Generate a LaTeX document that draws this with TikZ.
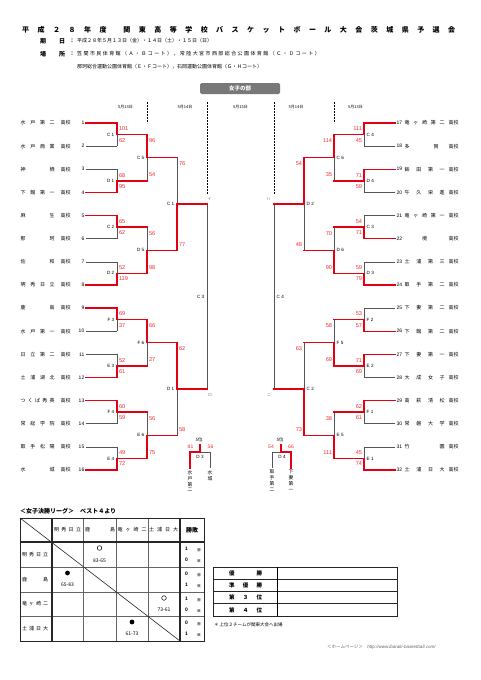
\documentclass[tikz,border=0pt]{standalone}
\usepackage{fontspec}
\setmainfont{Noto Sans CJK JP}
\newfontfamily\lat{Liberation Sans}
\usetikzlibrary{calc}
\pgfdeclarelayer{bg}
\pgfsetlayers{bg,main}
\definecolor{wred}{RGB}{228,0,18}
\definecolor{sred}{RGB}{235,45,45}
\definecolor{lgray}{RGB}{85,85,85}
\definecolor{boxgray}{RGB}{120,120,120}
\definecolor{tgray}{RGB}{100,100,100}
\newcommand\myfs[1]{\fontsize{#1}{#1}\selectfont}
\def\spreadchars#1{\ifx\relax#1\else#1\hfil\expandafter\spreadchars\fi}
\tikzset{
  win/.style={draw=wred,line width=1.4pt,line cap=rect},
  lose/.style={draw=lgray,line width=0.6pt},
  score/.style={text=sred,font=\lat\myfs{5.6},inner sep=0pt},
  mlab/.style={font=\lat\myfs{4.6},inner sep=0pt},
  tname/.style={font=\myfs{5},inner sep=0pt},
  tnum/.style={font=\lat\myfs{5},inner sep=0pt},
  daylab/.style={font=\myfs{4},inner sep=0pt},
  dayline/.style={draw=black,line width=1pt,dash pattern=on 2pt off 1pt},
  kana/.style={font=\myfs{3.8},inner sep=0pt,text=tgray},
  gthin/.style={draw=tgray,line width=0.5pt},
  gthick/.style={draw=black!85,line width=1.1pt},
  cell/.style={font=\myfs{5},inner sep=0pt},
  vname/.style={font=\fontsize{4.8}{5.9}\selectfont,inner sep=0pt,align=center,anchor=north},
}
% match: id, side L/R, top coord, bottom coord, winner t/b, label, top score, bottom score
\newcommand\mymatch[8]{%
  \coordinate (#1m) at ($(#3)!0.5!(#4)$);
  \if L#2
    \coordinate (#1o) at ($(#1m)+(30,0)$);
    \node[mlab,anchor=east] (#1lab) at ($(#1m)+(-2.5,0)$) {#6};
    \node[score,anchor=west] (#1st) at ($(#3)+(1.8,6)$) {#7};
    \node[score,anchor=west] (#1sb) at ($(#4)+(1.8,-6)$) {#8};
  \else
    \coordinate (#1o) at ($(#1m)+(-30,0)$);
    \node[mlab,anchor=west] (#1lab) at ($(#1m)+(2.5,0)$) {#6};
    \node[score,anchor=east] (#1st) at ($(#3)+(-1.8,6)$) {#7};
    \node[score,anchor=east] (#1sb) at ($(#4)+(-1.8,-6)$) {#8};
  \fi
  \if t#5
    \begin{pgfonlayer}{bg}\draw[lose] (#4)--(#1m);\end{pgfonlayer}
    \draw[win] (#3)--(#1m)--(#1o);
  \else
    \begin{pgfonlayer}{bg}\draw[lose] (#3)--(#1m);\end{pgfonlayer}
    \draw[win] (#4)--(#1m)--(#1o);
  \fi
}
\newcommand\lteam[4]{%
  \begin{pgfonlayer}{bg}\draw[#4] (LS#1) -- (L#1);\end{pgfonlayer}
  \node[tnum,anchor=east] (ln#1) at ($(LS#1)+(-1.5,0)$) {#2};
  \node[tname,anchor=west] (lname#1) at ($(LS#1)+(-65.5,0)$) {\hbox to 34pt{#3}};
  \node[tname] (lk#1) at ($(LS#1)+(-20.5,0)$) {高校};
}
\newcommand\rteam[4]{%
  \begin{pgfonlayer}{bg}\draw[#4] (RS#1) -- (R#1);\end{pgfonlayer}
  \node[tnum,anchor=west] (rn#1) at ($(RS#1)+(1.5,0)$) {#2};
  \node[tname,anchor=west] (rname#1) at ($(RS#1)+(9.5,0)$) {\hbox to 40pt{#3}};
  \node[tname] (rk#1) at ($(RS#1)+(58.5,0)$) {高校};
}
\begin{document}
\begin{tikzpicture}[x=1pt,y=-1pt]
\useasboundingbox (0,0) rectangle (481,680);
% ---------- header ----------
\node[anchor=west,font=\bfseries\myfs{7},inner sep=0] (ttl) at (22,30) {\hbox to 433pt{平\hfil 成\hfil ２\hfil ８\hfil 年\hfil 度\hfil\hfil 関\hfil 東\hfil 高\hfil 等\hfil 学\hfil 校\hfil バ\hfil ス\hfil ケ\hfil ッ\hfil ト\hfil ボ\hfil ー\hfil ル\hfil 大\hfil 会\hfil 茨\hfil 城\hfil 県\hfil 予\hfil 選\hfil 会}};
\node[font=\bfseries\myfs{6},inner sep=0] (h1a) at (43,41) {期};
\node[font=\bfseries\myfs{6},inner sep=0] (h1b) at (62,41) {日};
\node[font=\bfseries\myfs{5},inner sep=0] (h1c) at (72,41) {：};
\node[anchor=west,font=\myfs{5},inner sep=0] (h1d) at (77,41) {平成２８年５月１３日（金）・１４日（土）・１５日（日）};
\node[font=\bfseries\myfs{6},inner sep=0] (h2a) at (43,54) {場};
\node[font=\bfseries\myfs{6},inner sep=0] (h2b) at (62,54) {所};
\node[font=\bfseries\myfs{5},inner sep=0] (h2c) at (72,54) {：};
\node[anchor=west,font=\myfs{5},inner sep=0] (h2d) at (77,54) {\hbox to 244pt{\spreadchars 笠間市民体育館（Ａ・Ｂコート），常陸大宮市西部総合公園体育館（Ｃ・Ｄコート）\relax}};
\node[anchor=west,font=\myfs{5},inner sep=0] (h3d) at (77,67) {那珂総合運動公園体育館（Ｅ・Ｆコート），石岡運動公園体育館（Ｇ・Ｈコート）};
\node[fill=boxgray,rounded corners=1.5pt,minimum width=80pt,minimum height=11pt,inner sep=0,text=white,font=\bfseries\myfs{5.5}] (sect) at (240,88.5) {女子の部};
% ---------- day lines ----------
\coordinate (d1t) at (147,102); \coordinate (d1b) at (147,123);
\coordinate (d2t) at (207,102); \coordinate (d2b) at (207,194);
\coordinate (d3t) at (274,102); \coordinate (d3b) at (274,194);
\coordinate (d4t) at (334,102); \coordinate (d4b) at (334,123);
\draw[dayline] (d1t)--(d1b); \draw[dayline] (d2t)--(d2b);
\draw[dayline] (d3t)--(d3b); \draw[dayline] (d4t)--(d4b);
\node[daylab] (day1) at (125.5,107) {5月13日};
\node[daylab] (day2) at (185,107) {5月14日};
\node[daylab] (day3) at (240.5,107) {5月15日};
\node[daylab] (day4) at (296,107) {5月14日};
\node[daylab] (day5) at (355.5,107) {5月13日};
% ---------- team coordinates ----------
\foreach \i in {1,...,16}{
  \pgfmathsetmacro\yy{123+(\i-1)*23.1333}
  \coordinate (L\i) at (117,\yy);
  \coordinate (LS\i) at (86,\yy);
  \coordinate (R\i) at (364,\yy);
  \coordinate (RS\i) at (395,\yy);
}
% ---------- left teams ----------
\lteam{1}{1}{水\hfil 戸\hfil 第\hfil 二}{win}
\lteam{2}{2}{水\hfil 戸\hfil 商\hfil 業}{lose}
\lteam{3}{3}{神\hfil 栖}{lose}
\lteam{4}{4}{下\hfil 館\hfil 第\hfil 一}{win}
\lteam{5}{5}{麻\hfil 生}{win}
\lteam{6}{6}{那\hfil 珂}{lose}
\lteam{7}{7}{佐\hfil 和}{lose}
\lteam{8}{8}{明\hfil 秀\hfil 日\hfil 立}{win}
\lteam{9}{9}{鹿\hfil 島}{win}
\lteam{10}{10}{水\hfil 戸\hfil 第\hfil 一}{lose}
\lteam{11}{11}{日\hfil 立\hfil 第\hfil 二}{lose}
\lteam{12}{12}{土\hfil 浦\hfil 湖\hfil 北}{win}
\lteam{13}{13}{つ\hfil く\hfil ば\hfil 秀\hfil 英}{win}
\lteam{14}{14}{常\hfil 総\hfil 学\hfil 院}{lose}
\lteam{15}{15}{取\hfil 手\hfil 松\hfil 陽}{lose}
\lteam{16}{16}{水\hfil 城}{win}
% ---------- right teams ----------
\rteam{1}{17}{竜\hfil ヶ\hfil 崎\hfil 第\hfil 二}{win}
\rteam{2}{18}{多\hfil\hfil\hfil\hfil 賀\hfil}{lose}
\rteam{3}{19}{鉾\hfil 田\hfil 第\hfil 一}{win}
\rteam{4}{20}{牛\hfil 久\hfil 栄\hfil 進}{lose}
\rteam{5}{21}{竜\hfil ヶ\hfil 崎\hfil 第\hfil 一}{lose}
\rteam{6}{22}{\hfil 境\hfil}{win}
\rteam{7}{23}{土\hfil 浦\hfil 第\hfil 三}{lose}
\rteam{8}{24}{取\hfil 手\hfil 第\hfil 二}{win}
\rteam{9}{25}{下\hfil 妻\hfil 第\hfil 二}{lose}
\rteam{10}{26}{下\hfil 館\hfil 第\hfil 二}{win}
\rteam{11}{27}{下\hfil 妻\hfil 第\hfil 一}{win}
\rteam{12}{28}{大\hfil 成\hfil 女\hfil 子}{lose}
\rteam{13}{29}{高\hfil 萩\hfil 清\hfil 松}{win}
\rteam{14}{30}{常\hfil 磐\hfil 大\hfil 学}{lose}
\rteam{15}{31}{竹\hfil 園}{lose}
\rteam{16}{32}{土\hfil 浦\hfil 日\hfil 大}{win}
% ---------- left bracket ----------
\mymatch{LA}{L}{L1}{L2}{t}{C 1}{101}{62}
\mymatch{LB}{L}{L3}{L4}{b}{D 1}{68}{95}
\mymatch{LC}{L}{L5}{L6}{t}{C 2}{65}{62}
\mymatch{LD}{L}{L7}{L8}{b}{D 2}{52}{119}
\mymatch{LE}{L}{L9}{L10}{t}{F 3}{69}{37}
\mymatch{LF}{L}{L11}{L12}{b}{E 3}{52}{61}
\mymatch{LG}{L}{L13}{L14}{t}{F 4}{60}{59}
\mymatch{LH}{L}{L15}{L16}{b}{E 4}{49}{72}
\mymatch{LAB}{L}{LAo}{LBo}{t}{C 5}{96}{54}
\mymatch{LCD}{L}{LCo}{LDo}{b}{D 5}{56}{98}
\mymatch{LEF}{L}{LEo}{LFo}{t}{F 6}{66}{27}
\mymatch{LGH}{L}{LGo}{LHo}{b}{E 6}{56}{75}
\mymatch{LAD}{L}{LABo}{LCDo}{b}{C 1}{76}{77}
\mymatch{LEH}{L}{LEFo}{LGHo}{t}{D 1}{62}{58}
\begin{pgfonlayer}{bg}\draw[lose] (LADo)--(LEHo);\end{pgfonlayer}
\coordinate (LFm) at ($(LADo)!0.5!(LEHo)$);
\node[mlab,anchor=east] (lfin) at ($(LFm)+(-2.5,0)$) {C 3};
\node[kana] (ki) at ($(LADo)+(2.5,-5)$) {イ};
\node[kana] (kro) at ($(LEHo)+(3,6)$) {ロ};
% ---------- right bracket ----------
\mymatch{RA}{R}{R1}{R2}{t}{C 4}{111}{45}
\mymatch{RB}{R}{R3}{R4}{t}{D 4}{71}{59}
\mymatch{RC}{R}{R5}{R6}{b}{C 3}{54}{71}
\mymatch{RD}{R}{R7}{R8}{b}{D 3}{59}{79}
\mymatch{RE}{R}{R9}{R10}{b}{F 2}{53}{57}
\mymatch{RF}{R}{R11}{R12}{t}{E 2}{71}{69}
\mymatch{RG}{R}{R13}{R14}{t}{F 1}{62}{61}
\mymatch{RH}{R}{R15}{R16}{b}{E 1}{45}{74}
\mymatch{RAB}{R}{RAo}{RBo}{t}{C 6}{114}{35}
\mymatch{RCD}{R}{RCo}{RDo}{b}{D 6}{70}{90}
\mymatch{REF}{R}{REo}{RFo}{b}{F 5}{58}{69}
\mymatch{RGH}{R}{RGo}{RHo}{b}{E 5}{38}{111}
\mymatch{RAD}{R}{RABo}{RCDo}{t}{D 2}{54}{48}
\mymatch{REH}{R}{REFo}{RGHo}{b}{C 2}{63}{73}
\begin{pgfonlayer}{bg}\draw[lose] (RADo)--(REHo);\end{pgfonlayer}
\coordinate (RFm) at ($(RADo)!0.5!(REHo)$);
\node[mlab,anchor=west] (rfin) at ($(RFm)+(2.5,0)$) {C 4};
\node[kana] (kha) at ($(RADo)+(-5.5,-5)$) {ハ};
\node[kana] (kni) at ($(REHo)+(-5,6)$) {ニ};
% ---------- 5th place (left) ----------
\coordinate (p5Ls) at (200,445); \coordinate (p5Lm) at (200,452);
\coordinate (p5La) at (190,452); \coordinate (p5Lb) at (210,452);
\coordinate (p5Lad) at (190,468); \coordinate (p5Lbd) at (210,468);
\begin{pgfonlayer}{bg}\draw[lose] (p5Lm)--(p5Lb)--(p5Lbd);\end{pgfonlayer}
\draw[win] (p5Ls)--(p5Lm)--(p5La)--(p5Lad);
\node[daylab,font=\myfs{4.5}] (p5Lt) at (199,440) {5位};
\node[score,font=\lat\myfs{5}] (p5Lsa) at (190.5,447) {81};
\node[score,font=\lat\myfs{5}] (p5Lsb) at (210.5,447) {56};
\node[mlab] (p5Llab) at (200,457) {D 3};
\node[vname] (p5Lna) at (190,470) {水\\戸\\第\\二};
\node[vname] (p5Lnb) at (210,470) {水\\城};
% ---------- 5th place (right) ----------
\coordinate (p5Rs) at (281,445); \coordinate (p5Rm) at (281,452);
\coordinate (p5Ra) at (272,452); \coordinate (p5Rb) at (291,452);
\coordinate (p5Rad) at (272,468); \coordinate (p5Rbd) at (291,468);
\begin{pgfonlayer}{bg}\draw[lose] (p5Rm)--(p5Ra)--(p5Rad);\end{pgfonlayer}
\draw[win] (p5Rs)--(p5Rm)--(p5Rb)--(p5Rbd);
\node[daylab,font=\myfs{4.5}] (p5Rt) at (280,440) {5位};
\node[score,font=\lat\myfs{5}] (p5Rsa) at (271,447) {54};
\node[score,font=\lat\myfs{5}] (p5Rsb) at (291,447) {66};
\node[mlab] (p5Rlab) at (282,457) {D 4};
\node[vname] (p5Rna) at (272,470) {取\\手\\第\\二};
\node[vname] (p5Rnb) at (291,470) {下\\妻\\第\\一};
% ---------- league table ----------
\node[anchor=west,font=\bfseries\myfs{6},inner sep=0] (lgt) at (20,511) {＜女子決勝リーグ＞　ベスト４より};
\foreach \x in {83,116,148} \draw[gthin] (\x,518)--(\x,641);
\foreach \y in {567,592,616} \draw[gthin] (20,\y)--(204,\y);
\draw[gthick] (52,518)--(52,641);
\draw[gthick] (180,518)--(180,641);
\draw[gthick] (20,542)--(204,542);
\draw[draw=black!85,line width=0.8pt] (20,518) rectangle (204,641);
\draw[draw=black!85,line width=0.6pt] (20,518)--(180,641);
\node[cell] (c01) at (67.5,530) {\hbox to 27pt{明\hfil 秀\hfil 日\hfil 立}};
\node[cell] (c02) at (100,530) {\hbox to 30pt{鹿\hfil 島}};
\node[cell] (c03) at (132,530) {\hbox to 29pt{竜\hfil ヶ\hfil 崎\hfil 二}};
\node[cell] (c04) at (163.5,530) {\hbox to 29pt{土\hfil 浦\hfil 日\hfil 大}};
\node[cell,font=\bfseries\myfs{6}] (c05) at (192,530) {勝敗};
\node[cell] (r1) at (35,554.5) {\hbox to 26pt{明\hfil 秀\hfil 日\hfil 立}};
\node[cell] (r2) at (35,579.5) {\hbox to 26pt{鹿\hfil 島}};
\node[cell] (r3) at (35,604) {\hbox to 26pt{竜\hfil ヶ\hfil 崎\hfil 二}};
\node[cell] (r4) at (35,628.5) {\hbox to 26pt{土\hfil 浦\hfil 日\hfil 大}};
\node[circle,draw=black,line width=0.5pt,minimum size=4.6pt,inner sep=0] (o12) at (99.5,548) {};
\node[cell] (s12) at (99.5,561) {83-65};
\node[circle,fill=black,minimum size=4.8pt,inner sep=0] (o21) at (67.5,573) {};
\node[cell] (s21) at (67.5,585) {65-83};
\node[circle,draw=black,line width=0.5pt,minimum size=4.6pt,inner sep=0] (o34) at (164,598) {};
\node[cell] (s34) at (164,610) {73-61};
\node[circle,fill=black,minimum size=4.8pt,inner sep=0] (o43) at (132,622) {};
\node[cell] (s43) at (132,634) {61-73};
\foreach \t/\w/\l [count=\k] in {542/1/0,567/0/1,592/1/0,616/0/1}{
  \node[cell,font=\lat\bfseries\myfs{5}] (wn\k) at (186.5,\t+7) {\w};
  \node[cell,font=\lat\bfseries\myfs{5}] (ln\k) at (186.5,\t+18) {\l};
  \node[cell,font=\myfs{3.4}] (wk\k) at (199,\t+8.5) {勝};
  \node[cell,font=\myfs{3.4}] (lk\k) at (199,\t+19.5) {敗};
}
% ---------- result table ----------
\draw[draw=black!85,line width=0.7pt] (213,567) rectangle (397,616);
\foreach \y in {579.25,591.5,603.75} \draw[draw=black!85,line width=0.7pt] (213,\y)--(397,\y);
\draw[draw=black,line width=1pt] (277,567)--(277,616);
\node[cell,font=\bfseries\myfs{5.5}] (res1) at (245.5,573.1) {\hbox to 33pt{優\hfil 勝}};
\node[cell,font=\bfseries\myfs{5.5}] (res2) at (245.5,585.4) {\hbox to 33pt{準\hfil 優\hfil 勝}};
\node[cell,font=\bfseries\myfs{5.5}] (res3) at (245.5,597.6) {\hbox to 33pt{第\hfil ３\hfil 位}};
\node[cell,font=\bfseries\myfs{5.5}] (res4) at (245.5,609.9) {\hbox to 33pt{第\hfil ４\hfil 位}};
\node[anchor=west,cell,font=\myfs{4.5}] (note) at (214,625) {＊ 上位２チームが関東大会へ出場};
\node[anchor=west,cell,font=\myfs{4.5},text=tgray] (foot) at (327,647) {＜ホームページ＞\quad{\lat\itshape http://www.ibaraki-basketball.com/}};
\end{tikzpicture}
\end{document}
